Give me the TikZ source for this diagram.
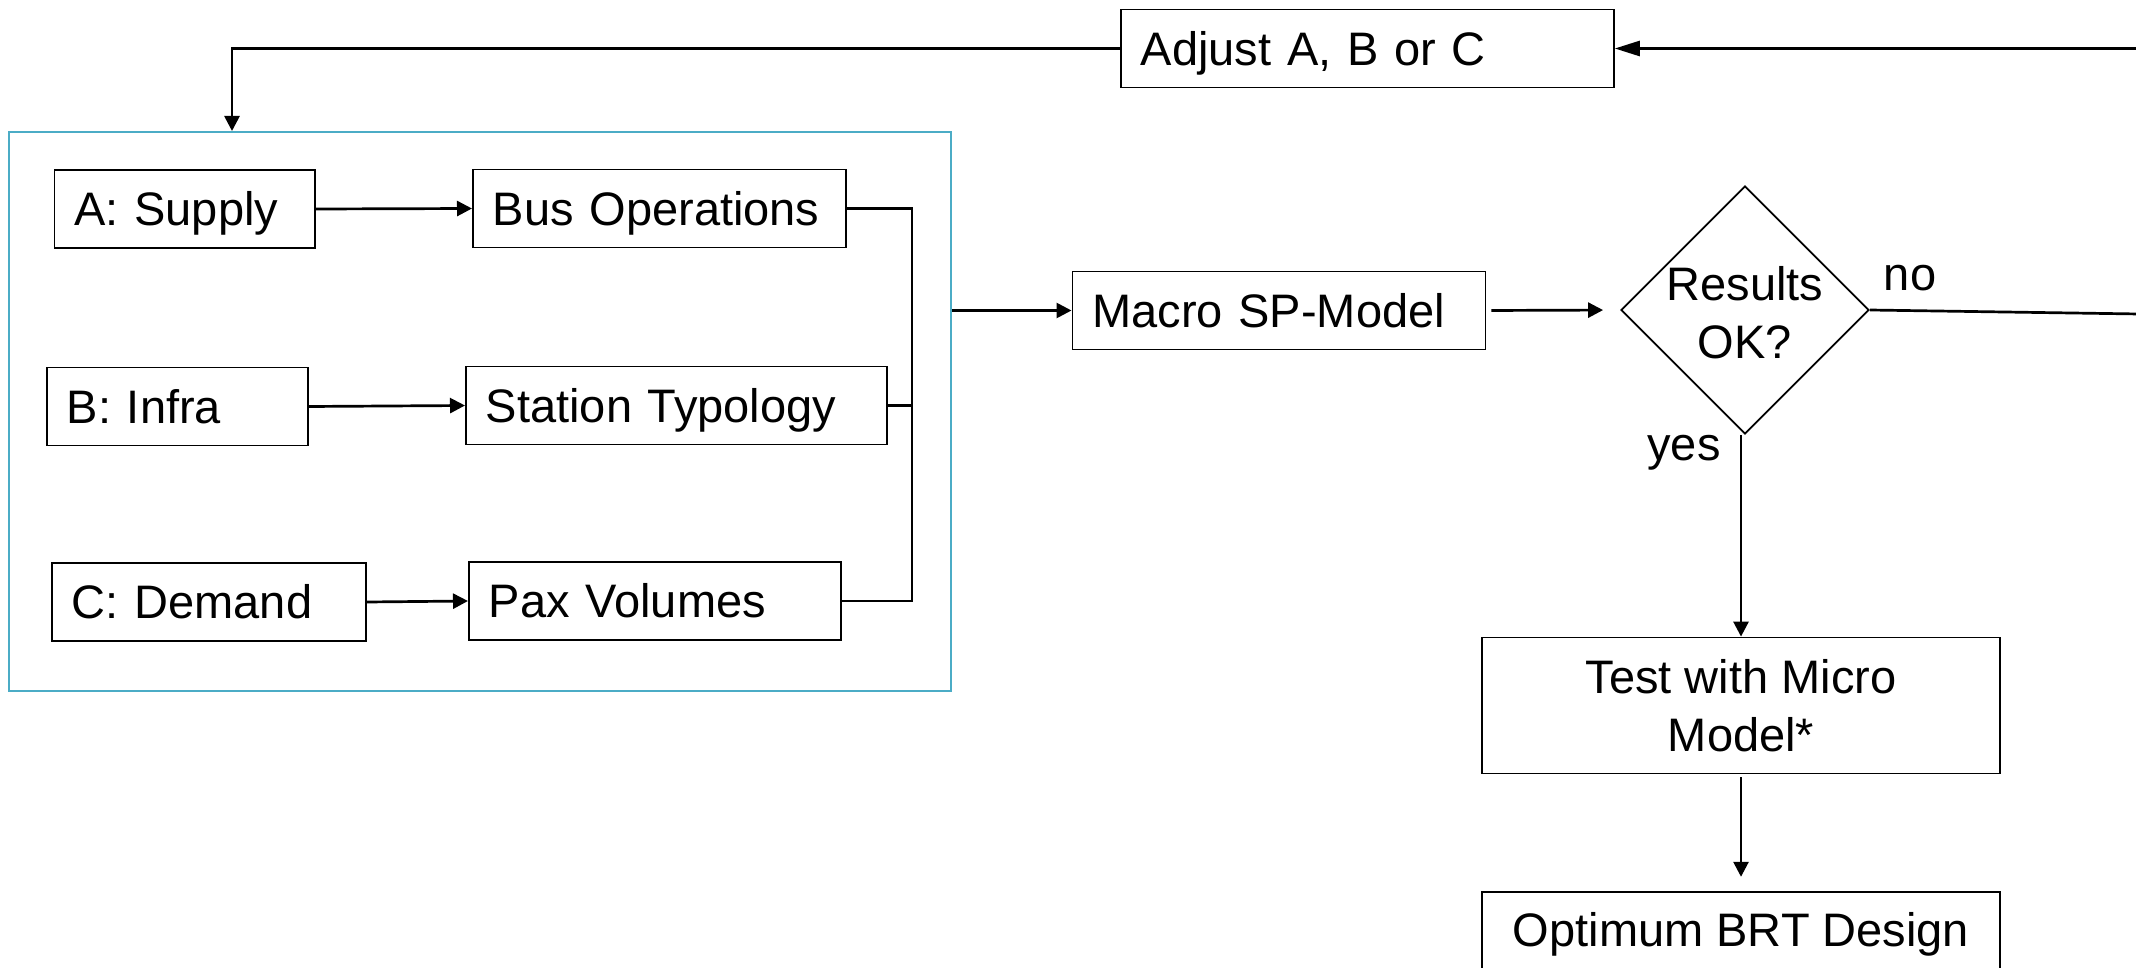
\documentclass[tikz,border=0pt]{standalone}
\usepackage{fontspec}
\setmainfont{Liberation Sans}
\usepackage{tikz}
\usetikzlibrary{arrows.meta,shapes,positioning}
\definecolor{framecol}{RGB}{75,172,198}

\begin{document}
\begin{tikzpicture}[x=1pt,y=-1pt]
            \tikzstyle{every node}=[font=\fontsize{47}{57.7}\selectfont]
            \tikzstyle{blk}=[draw=black, line width=1.8pt, rectangle, minimum height=78pt, inner xsep=20pt, inner ysep=0pt, text height=33.4pt, text depth=0pt, align=left, anchor=west]
            \tikzstyle{cblk}=[draw=black, line width=1.8pt, rectangle, inner sep=0pt, align=center]
            \tikzstyle{decision}=[draw=black, line width=1.8pt, diamond, aspect=1, inner sep=0pt, minimum width=248pt, minimum height=248pt]
            \tikzstyle{lnk}=[line width=2.7pt]
            \tikzstyle{arr}=[lnk, -{Triangle[length=15pt,width=15pt]}]
            \useasboundingbox (0,0) rectangle (2136,968);
            \clip (0,0) rectangle (2136,968);
            \node [draw=framecol, line width=2pt, minimum width=942pt, minimum height=559pt, inner sep=0pt] (grp) at (480,411.5) {};
            \node [blk, text width=453pt] (adjust) at (1120,48.5) {Adjust A, B or C};
            \node [blk, text width=220.5pt] (supply) at (53.5,209) {A: Supply};
            \node [blk, text width=333pt] (busops) at (472,208.5) {Bus Operations};
            \node [blk, text width=221pt] (infra) at (46,406.5) {B: Infra};
            \node [blk, text width=381pt] (station) at (465,405.5) {Station Typology};
            \node [blk, text width=274pt] (demand) at (51,602) {C: Demand};
            \node [blk, text width=332pt] (pax) at (468,601) {Pax Volumes};
            \node [blk, text width=373pt] (macro) at (1071.5,310.5) {Macro SP-Model};
            \node [decision] (chk) at (1745,310) {};
            \node [align=center] (chktxt) at (1745,313) {Results\\OK?};
            \node [cblk, minimum width=518pt, minimum height=136pt] (test) at (1741,705.5) {Test with Micro\\Model*};
            \node [cblk, minimum width=518pt, minimum height=84pt, text height=34pt, text depth=8pt] (opt) at (1741,933.7) {Optimum BRT Design};
            \node (yes) at (1684,453) {yes};
            \node (no) at (1910,278) {no};
            \coordinate (jn) at (912,0);
            \coordinate (fb) at (232,48.5);
            \draw [arr] (supply.east) -- (busops.west);
            \draw [arr] (infra.east) -- (station.west);
            \draw [arr] (demand.east) -- (pax.west);
            \draw [lnk] (busops.east) -- (busops.east -| jn) -- (pax.east -| jn) -- (pax.east);
            \draw [lnk] (station.east) -- (station.east -| jn);
            \draw [arr] (grp.east |- macro.west) -- (macro.west);
            \draw [arr, shorten <=5pt, shorten >=17pt] (macro.east) -- (chk.west);
            \draw [arr] (test.north |- chk.south) -- (test.north);
            \draw [arr, shorten <=3pt, shorten >=14pt] (test.south) -- (opt.north);
            \draw [arr] (adjust.west) -- (fb) -- (fb |- grp.north);
            \draw [lnk, -{Triangle[length=25pt,width=15pt]}] (chk.east) -- (2180,314.6) -- (2180,48.5) -- (adjust.east);
\end{tikzpicture}
\end{document}
